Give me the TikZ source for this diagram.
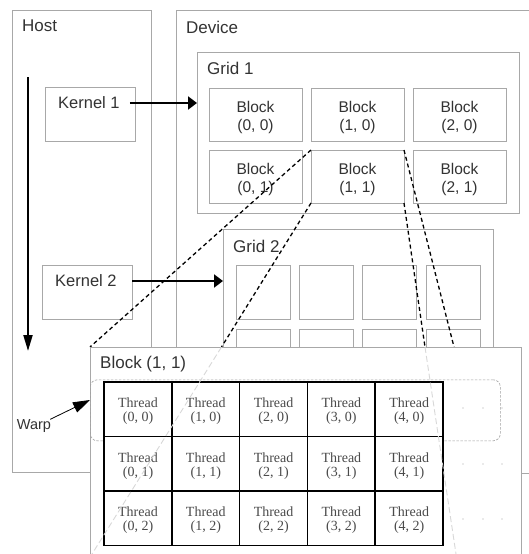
\documentclass[tikz,border=0pt]{standalone}
\usepackage{fontspec}
\setmainfont{Liberation Sans}
\newfontfamily\thrfont{Liberation Serif}
\usetikzlibrary{arrows.meta}
\definecolor{boxgray}{HTML}{A8A8A8}
\definecolor{txtgray}{HTML}{333333}
\definecolor{thrgray}{HTML}{4A4A4A}
\definecolor{faint}{HTML}{D8D8D8}
\definecolor{warpgray}{HTML}{A0A0A0}
\begin{document}
\begin{tikzpicture}[x=1pt,y=-1pt,
  box/.style={draw=boxgray,line width=1pt,fill=white,inner sep=0pt,outer sep=0pt,anchor=north west},
  lbl/.style={text=txtgray,inner sep=0pt,align=center},
  biglbl/.style={lbl,anchor=west,font=\fontsize{17}{20}\selectfont},
  blk/.style={lbl,font=\fontsize{15.5}{17.5}\selectfont},
  kern/.style={lbl,anchor=west,font=\fontsize{16.5}{19}\selectfont},
  cell/.style={draw=black,line width=1.5pt,fill=white,inner sep=0pt,outer sep=0pt,anchor=north west,minimum width=68pt,minimum height=54.5pt},
  thr/.style={text=thrgray,font=\thrfont\fontsize{14}{14}\selectfont,align=center,inner sep=0pt},
  bigarrow/.style={line width=2.5pt,-{Triangle[length=9pt,width=13pt]}},
  perspective/.style={line width=1.3pt,dash pattern=on 4pt off 3pt},
  faintline/.style={draw=faint,line width=0.9pt,dash pattern=on 6pt off 3pt}]
\useasboundingbox (0,0) rectangle (529,554);
\clip (0,0) rectangle (529,554);

% Host and device
\node[box,minimum width=139pt,minimum height=462pt] (host) at (12,10) {};
\node[biglbl] (hostl) at (22,26) {Host};
\node[box,minimum width=370pt,minimum height=463pt] (dev) at (176,10) {};
\node[biglbl] (devl) at (186,27) {Device};

% Grid 1
\node[box,minimum width=322pt,minimum height=161pt] (g1) at (197,52) {};
\node[biglbl] (g1l) at (207,68) {Grid 1};
\foreach \i/\x in {0/209,1/311,2/413}
  \foreach \j/\y in {0/88,1/150} {
    \node[box,minimum width=93pt,minimum height=53pt] (b\i\j) at (\x,\y) {};
    \node[blk] (bl\i\j) at ([yshift=-3pt]b\i\j.center) {Block\\(\i, \j)};
  }

% Kernels
\node[box,minimum width=90pt,minimum height=54pt] (k1) at (45,87) {};
\node[kern] (k1l) at (58,103) {Kernel 1};
\node[box,minimum width=90pt,minimum height=54pt] (k2) at (42,265) {};
\node[kern] (k2l) at (55,281) {Kernel 2};

% Grid 2
\node[box,minimum width=270pt,minimum height=200pt] (g2) at (223,229) {};
\node[biglbl] (g2l) at (233,246) {Grid 2};
\foreach \i/\x in {0/236,1/299,2/362,3/426}
  \foreach \j/\y in {0/265,1/329}
    \node[box,minimum width=54pt,minimum height=54pt] (s\i\j) at (\x,\y) {};

% Arrows from host
\coordinate (vtop) at (28,77);
\coordinate (vbot) at (28,351);
\draw[line width=2pt,-{Triangle[length=16pt,width=9pt]}] (vtop) -- (vbot);
\draw[bigarrow] ([xshift=10pt]k1l.east) -- (k1l.east -| g1.west);
\draw[bigarrow] (k2.east |- k2l.east) -- (k2l.east -| g2.west);

% Perspective lines
\coordinate (pa) at (90,347);
\coordinate (pb) at (454,347);
\coordinate (pc) at (221.5,347);
\coordinate (pd) at (425,347);
\coordinate (pc2) at (92,554);
\coordinate (pd2) at (456,554);
\draw[perspective] (b11.north west) -- (pa);
\draw[perspective] (b11.north east) -- (pb);
\draw[perspective] (b11.south west) -- (pc);
\draw[perspective] (b11.south east) -- (pd);

% Block (1,1) detail
\node[box,minimum width=431pt,minimum height=230pt] (big) at (90,347) {};
\node[biglbl] (bigl) at (100,364) {Block (1, 1)};

% Warp
\node[draw=warpgray,line width=0.6pt,dash pattern=on 2.5pt off 1.5pt,rounded corners=7pt,
      minimum width=410pt,minimum height=61pt,anchor=north west,inner sep=0pt] (warp) at (90,379.5) {};

% Threads
\foreach \i in {0,...,4}
  \foreach \j in {0,1,2} {
    \node[cell] (t\i\j) at ({104+67.8*\i},{382+54.4*\j}) {};
    \node[thr] (tl\i\j) at ([yshift=-2pt]t\i\j.center) {Thread\\(\i, \j)};
  }

\draw[faintline] (pc) -- (pc2);
\draw[faintline] (pd) -- (pd2);

% Continuation dots
\foreach \y in {408,464,519}
  \foreach \x in {463,483,502}
    \fill[boxgray] (\x,\y) circle (0.6pt);

% Warp label
\node[lbl,font=\fontsize{14.5}{17}\selectfont] (warpl) at (34,426) {Warp};
\coordinate (warptip) at (90,400);
\draw[line width=0.8pt,-{Triangle[length=17pt,width=11pt]}] ([xshift=-1pt]warpl.north east) -- (warptip);
\end{tikzpicture}
\end{document}
